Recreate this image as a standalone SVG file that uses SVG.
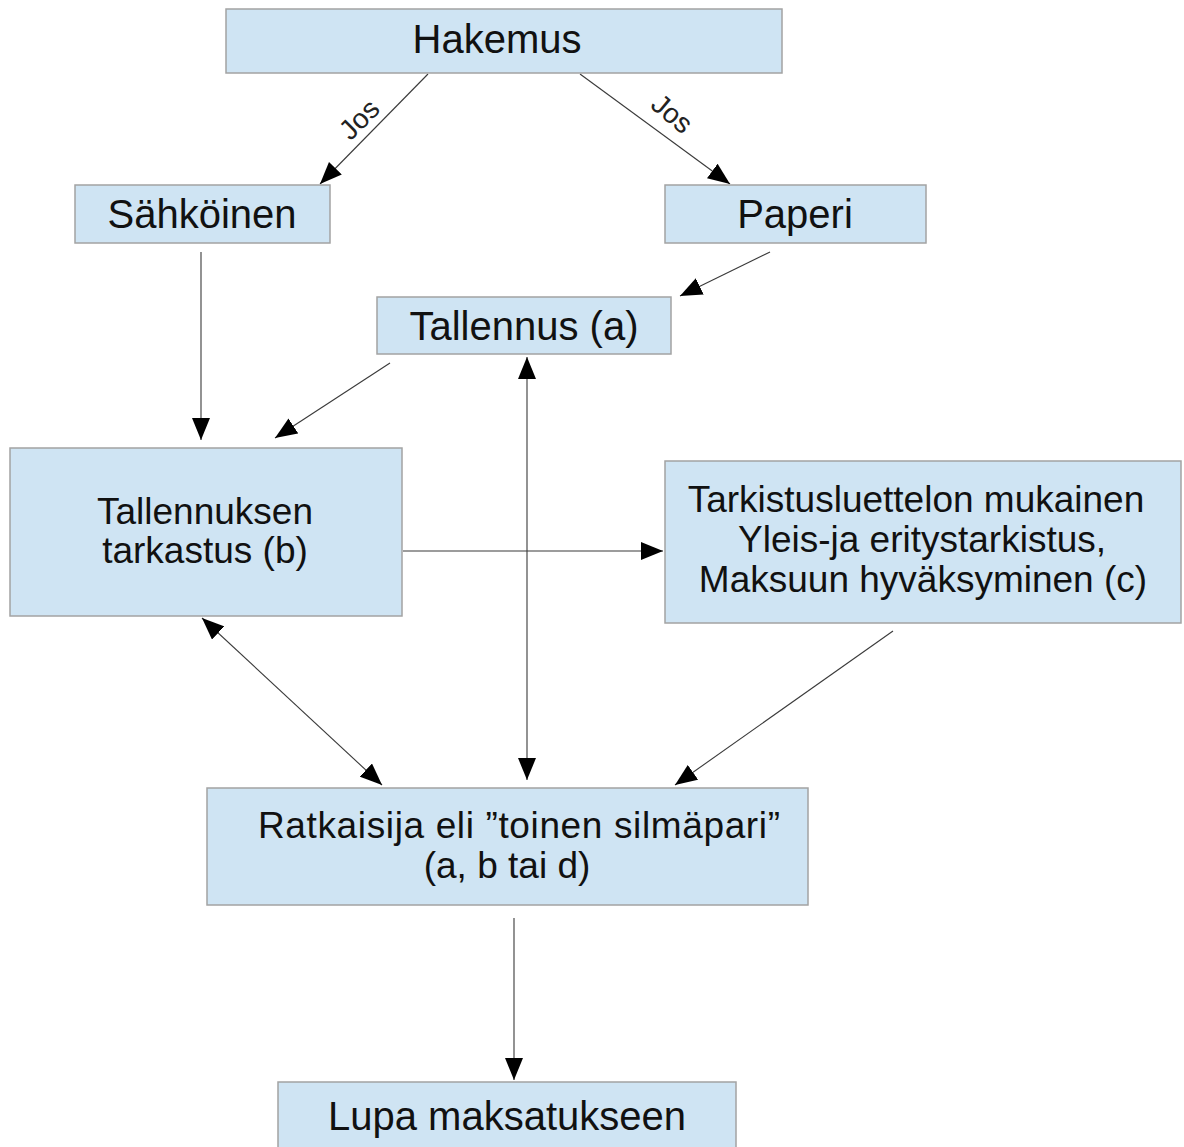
<svg xmlns="http://www.w3.org/2000/svg" width="1184" height="1147" viewBox="0 0 1184 1147">
<style>
.box{fill:#cfe4f3;stroke:#a3a3a3;stroke-width:1.5}
.t40{font-family:"Liberation Sans",Arial,sans-serif;font-size:40px;fill:#111;text-anchor:middle}
.t37{font-family:"Liberation Sans",Arial,sans-serif;font-size:37px;fill:#111;text-anchor:middle}
.lbl{font-family:"Liberation Sans",Arial,sans-serif;font-size:28px;fill:#222;text-anchor:middle}
.c{stroke:#3a3a3a;stroke-width:1.1;fill:none}
</style>
<defs>
<marker id="ah" markerUnits="userSpaceOnUse" markerWidth="22" markerHeight="18" viewBox="0 0 22 18" refX="22" refY="9" orient="auto-start-reverse">
<path d="M0,0 L22,9 L0,18 z" fill="#000"/>
</marker>
</defs>
<rect width="1184" height="1147" fill="#fff"/>
<g id="connectors">
<line class="c" x1="428" y1="74" x2="320" y2="184" marker-end="url(#ah)"/>
<line class="c" x1="580" y1="74" x2="730" y2="184" marker-end="url(#ah)"/>
<line class="c" x1="770" y1="252" x2="680" y2="296" marker-end="url(#ah)"/>
<line class="c" x1="201" y1="252" x2="201" y2="440" marker-end="url(#ah)"/>
<line class="c" x1="390" y1="363" x2="275" y2="438" marker-end="url(#ah)"/>
<line class="c" x1="527" y1="357" x2="527" y2="780" marker-start="url(#ah)" marker-end="url(#ah)"/>
<line class="c" x1="403" y1="551" x2="663" y2="551" marker-end="url(#ah)"/>
<line class="c" x1="202" y1="618" x2="382" y2="785" marker-start="url(#ah)" marker-end="url(#ah)"/>
<line class="c" x1="893" y1="631" x2="675" y2="785" marker-end="url(#ah)"/>
<line class="c" x1="514" y1="918" x2="514" y2="1080" marker-end="url(#ah)"/>
<text class="lbl" transform="translate(366,126) rotate(-45)">Jos</text>
<text class="lbl" transform="translate(666,121) rotate(40)">Jos</text>
</g>
<g id="hakemus">
<rect class="box" x="226" y="9" width="556" height="64"/>
<text class="t40" x="497" y="53">Hakemus</text>
</g>
<g id="sahkoinen">
<rect class="box" x="75" y="185" width="255" height="58"/>
<text class="t40" x="202" y="228">Sähköinen</text>
</g>
<g id="paperi">
<rect class="box" x="665" y="185" width="261" height="58"/>
<text class="t40" x="795" y="228">Paperi</text>
</g>
<g id="tallennus">
<rect class="box" x="377" y="297" width="294" height="57"/>
<text class="t40" x="524" y="340">Tallennus (a)</text>
</g>
<g id="tarkastus">
<rect class="box" x="10" y="448" width="392" height="168"/>
<text class="t37" x="205" y="524">Tallennuksen</text>
<text class="t37" x="205" y="563">tarkastus (b)</text>
</g>
<g id="tarkistus">
<rect class="box" x="665" y="461" width="516" height="162"/>
<text class="t37" x="916" y="512">Tarkistusluettelon mukainen</text>
<text class="t37" x="922" y="552">Yleis-ja eritystarkistus,</text>
<text class="t37" x="923" y="592">Maksuun hyväksyminen (c)</text>
</g>
<g id="ratkaisija">
<rect class="box" x="207" y="788" width="601" height="117"/>
<text class="t37" x="519" y="838" textLength="522" lengthAdjust="spacing">Ratkaisija eli ”toinen silmäpari”</text>
<text class="t37" x="507" y="878">(a, b tai d)</text>
</g>
<g id="lupa">
<rect class="box" x="278" y="1082" width="458" height="80"/>
<text class="t40" x="507" y="1130">Lupa maksatukseen</text>
</g>
</svg>
